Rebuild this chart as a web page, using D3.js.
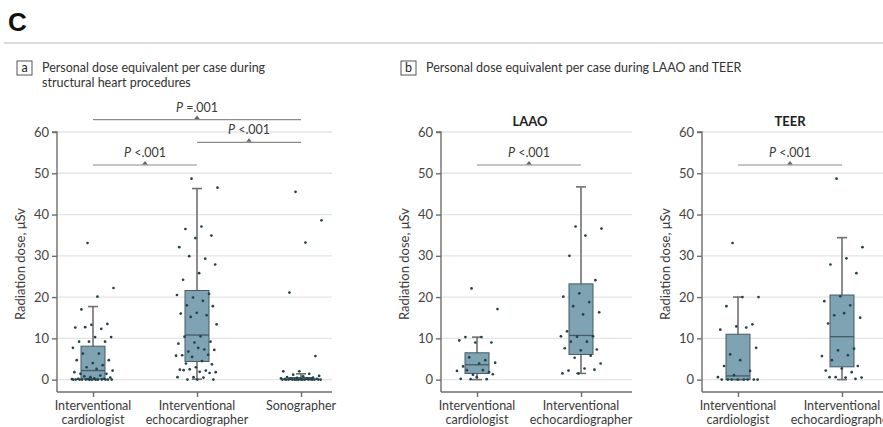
<!DOCTYPE html>
<html>
<head>
<meta charset="utf-8">
<script src="https://cdn.jsdelivr.net/npm/d3@7"></script>
<style>
  html, body { margin: 0; padding: 0; background: #fff; }
  svg { display: block; }
</style>
</head>
<body>
<svg id="chart" width="883" height="427"></svg>
<script>
// ---- Data -------------------------------------------------------------
const yTicks = [0, 10, 20, 30, 40, 50, 60];

// Panel a: structural heart procedures
const categoriesA = ["Interventional cardiologist", "Interventional echocardiographer", "Sonographer"];
const labelLinesA = [["Interventional", "cardiologist"], ["Interventional", "echocardiographer"], ["Sonographer"]];
const q1A = [0.15, 4.4, 0];
const medianA = [2.2, 10.8, 0.1];
const q3A = [8.1, 21.6, 0.5];
const whiskerLowA = [0, 0.1, 0];
const whiskerHighA = [17.7, 46.3, 1.4];
const pointsCardiologistA = [33.1, 22.2, 20.1, 17.0, 13.5, 13.3, 12.6, 12.3, 12.7, 10.3, 10.3, 9.2, 9.2, 9.2, 7.7, 6.3, 6.3, 4.7, 4.0, 4.7, 3.5, 3.0, 2.2, 2.6, 1.4, 1.4, 0.6, 1.8, 1.0, 0.8, 0.5, 0.3, 0.2, 0.2, 0.1, 0.1, 0, 0, 0, 0, 0, 0, 0, 0, 0, 0, 0, 0, 0];
const pointsEchoA = [48.7, 46.5, 37.1, 36.5, 34.9, 34.3, 32.1, 29.3, 29.9, 27.9, 25.8, 24.2, 20.8, 19.9, 20.5, 19.1, 18.0, 17.8, 16.2, 16.0, 15.6, 15.2, 13.4, 10.5, 10.4, 9.2, 9.0, 8.7, 7.3, 6.8, 7.2, 7.7, 5.9, 6.0, 5.5, 5.8, 4.5, 3.9, 3.7, 3.0, 2.4, 2.2, 2.5, 1.8, 1.9, 2.3, 1.6, 0.6, 0.6, 0.5, 0, 0, 0];
const pointsSonographerA = [45.5, 38.6, 33.2, 21.1, 5.7, 2.0, 2.0, 1.4, 1.2, 0.9, 0.8, 0.6, 0.5, 0.4, 0.3, 0.3, 0.2, 0.2, 0.1, 0.1, 0.1, 0, 0, 0, 0, 0, 0, 0, 0, 0, 0, 0, 0, 0, 0];
const comparisonsA = [
  { from: 0, to: 2, op: "=.001", level: 63 },
  { from: 1, to: 2, op: "<.001", level: 57.5 },
  { from: 0, to: 1, op: "<.001", level: 52 }
];

// Panel b: LAAO and TEER
const categoriesB = ["Interventional cardiologist", "Interventional echocardiographer"];
const labelLinesB = [["Interventional", "cardiologist"], ["Interventional", "echocardiographer"]];

const q1LAAO = [1.5, 6.1];
const medianLAAO = [3.6, 10.7];
const q3LAAO = [6.5, 23.2];
const whiskerLowLAAO = [0, 1.5];
const whiskerHighLAAO = [10.3, 46.7];
const pointsCardiologistLAAO = [22.1, 17.1, 10.3, 10.3, 9.0, 9.0, 9.5, 4.7, 5.4, 4.1, 3.9, 3.2, 1.8, 1.2, 2.1, 2.3, 2.3, 1.3, 0.6, 0.2, 0.1, 0.1];
const pointsEchoLAAO = [37.1, 36.6, 34.9, 30.0, 24.1, 20.9, 20.1, 18.8, 17.8, 16.3, 15.8, 11.7, 10.5, 10.4, 10.5, 9.2, 9.2, 7.3, 7.1, 7.6, 5.8, 5.3, 3.9, 2.7, 2.2, 2.4, 1.5, 1.5];

const q1TEER = [0, 3.1];
const medianTEER = [0.9, 10.4];
const q3TEER = [11.0, 20.5];
const whiskerLowTEER = [0, 0];
const whiskerHighTEER = [20.0, 34.4];
const pointsCardiologistTEER = [33.1, 20.0, 20.0, 17.8, 13.4, 12.9, 12.1, 12.6, 6.1, 7.7, 4.7, 3.3, 2.1, 1.1, 0.6, 0, 0, 0, 0, 0, 0, 0, 0];
const pointsEchoTEER = [48.7, 32.1, 29.4, 27.9, 25.8, 20.2, 19.0, 18.0, 15.6, 15.0, 16.1, 13.6, 7.5, 7.1, 5.7, 5.9, 4.7, 3.3, 2.7, 2.2, 1.8, 0.6, 0.5, 0.5, 0.6, 0.2];

const comparisonsB = [{ from: 0, to: 1, op: "<.001", level: 52 }];

// ---- Styles -----------------------------------------------------------
const TEXT = "#3a3a3a";
const AXIS = "#6e6e6e";
const GRID = "#e4e4e4";
const BOX_FILL = "#7ea3b3";
const BOX_STROKE = "#455a63";
const WHISKER = "#707070";
const DOT = "#23404b";

const svg = d3.select("#chart");
const FONT = 'Lato, "Open Sans", sans-serif';
const FS = 12.5;

// ---- Figure header ----------------------------------------------------
svg.append("text")
  .attr("x", 8).attr("y", 31)
  .attr("font-family", "Liberation Sans, Arial, sans-serif")
  .attr("font-weight", "bold").attr("font-size", 26)
  .attr("fill", "#111").text("C");

svg.append("line")
  .attr("x1", 4).attr("x2", 883).attr("y1", 43).attr("y2", 43)
  .attr("stroke", "#cfcfcf").attr("stroke-width", 1.5);

function panelTag(x, y, letter, lines) {
  svg.append("rect").attr("x", x).attr("y", y).attr("width", 15).attr("height", 14)
    .attr("fill", "#fff").attr("stroke", "#555").attr("stroke-width", 1);
  svg.append("text").attr("x", x + 7.5).attr("y", y + 11)
    .attr("text-anchor", "middle").attr("font-family", FONT).attr("font-size", FS)
    .attr("fill", "#222").text(letter);
  const t = svg.append("text").attr("font-family", FONT).attr("font-size", FS).attr("fill", "#333");
  lines.forEach((l, i) => {
    t.append("tspan").attr("x", x + 25).attr("y", y + 11 + i * 15).text(l);
  });
}
panelTag(17, 61, "a", ["Personal dose equivalent per case during", "structural heart procedures"]);
panelTag(401, 61, "b", ["Personal dose equivalent per case during LAAO and TEER"]);

// ---- Box plot panel ---------------------------------------------------
function jitter(i, half) {
  const f = (i * 0.6180339887 + 0.37) % 1;
  return (f - 0.5) * 2 * half;
}

function drawPanel(opt) {
  const { left, right, top, bottom, categories, labelLines, q1, median, q3, wLow, wHigh, points, comparisons, subtitle } = opt;
  const g = svg.append("g");

  const y = d3.scaleLinear().domain([-3, 60]).range([bottom, top]);
  const x = d3.scalePoint().domain(categories)
    .range([left + 36, left + 36 + 104 * (categories.length - 1)]);

  // gridlines
  g.append("g").selectAll("line").data(yTicks).join("line")
    .attr("x1", left).attr("x2", right)
    .attr("y1", d => y(d)).attr("y2", d => y(d))
    .attr("stroke", GRID).attr("stroke-width", 1.3);

  // y axis
  const yAxis = d3.axisLeft(y).tickValues(yTicks).tickSize(5).tickPadding(3);
  const ya = g.append("g").attr("transform", `translate(${left},0)`).call(yAxis);
  ya.select(".domain").attr("d", `M-5,${y(60)}H0V${bottom}`).attr("stroke", AXIS).attr("stroke-width", 1.4);
  ya.selectAll(".tick line").attr("stroke", AXIS).attr("stroke-width", 1.4);
  ya.selectAll(".tick text").attr("font-family", FONT).attr("font-size", 13).attr("fill", "#444");

  // x axis
  const xAxis = d3.axisBottom(x).tickSize(5).tickFormat("");
  const xa = g.append("g").attr("transform", `translate(0,${bottom})`).call(xAxis);
  xa.select(".domain").attr("d", `M${left},0H${right}`).attr("stroke", AXIS).attr("stroke-width", 1.4);
  xa.selectAll(".tick line").attr("stroke", AXIS).attr("stroke-width", 1.4);
  categories.forEach((c, i) => {
    const t = g.append("text").attr("font-family", FONT).attr("font-size", FS)
      .attr("fill", TEXT).attr("text-anchor", "middle");
    labelLines[i].forEach((l, k) => {
      t.append("tspan").attr("x", x(c)).attr("y", bottom + 18 + k * 14).text(l);
    });
  });

  // axis title
  g.append("text")
    .attr("transform", `translate(${left - 32},${(y(60) + bottom) / 2 + 2}) rotate(-90)`)
    .attr("text-anchor", "middle").attr("font-family", FONT).attr("font-size", 13)
    .attr("fill", TEXT).text("Radiation dose, \u03bcSv");

  if (subtitle) {
    g.append("text").attr("x", subtitle.cx).attr("y", 126)
      .attr("text-anchor", "middle").attr("font-family", FONT).attr("font-weight", "bold")
      .attr("font-size", 13).attr("fill", "#222").text(subtitle.text);
  }

  const boxW = 24, capW = 10;
  categories.forEach((c, i) => {
    const cx = x(c);
    // whisker
    g.append("line").attr("x1", cx).attr("x2", cx)
      .attr("y1", y(wLow[i])).attr("y2", y(wHigh[i]))
      .attr("stroke", WHISKER).attr("stroke-width", 1.6);
    [wLow[i], wHigh[i]].forEach(v => {
      g.append("line").attr("x1", cx - capW / 2).attr("x2", cx + capW / 2)
        .attr("y1", y(v)).attr("y2", y(v))
        .attr("stroke", WHISKER).attr("stroke-width", 1.6);
    });
    // box
    g.append("rect").attr("x", cx - boxW / 2).attr("width", boxW)
      .attr("y", y(q3[i])).attr("height", Math.max(0.8, y(q1[i]) - y(q3[i])))
      .attr("fill", BOX_FILL).attr("stroke", BOX_STROKE).attr("stroke-width", 1);
    g.append("line").attr("x1", cx - boxW / 2).attr("x2", cx + boxW / 2)
      .attr("y1", y(median[i])).attr("y2", y(median[i]))
      .attr("stroke", BOX_STROKE).attr("stroke-width", 1.3);
    // observations
    g.append("g").selectAll("circle").data(points[i]).join("circle")
      .attr("cx", (d, k) => cx + jitter(k, 21))
      .attr("cy", d => y(d))
      .attr("r", 1.35)
      .attr("fill", DOT);
  });

  // significance brackets
  comparisons.forEach(cmp => {
    const x1 = x(categories[cmp.from]), x2 = x(categories[cmp.to]);
    const ly = y(cmp.level), mid = (x1 + x2) / 2;
    g.append("line").attr("x1", x1).attr("x2", x2).attr("y1", ly).attr("y2", ly)
      .attr("stroke", "#8a8a8a").attr("stroke-width", 1.2);
    g.append("path").attr("d", `M${mid - 2.8},${ly - 0.5}L${mid + 2.8},${ly - 0.5}L${mid},${ly - 4}Z`)
      .attr("fill", "#666");
    const t = g.append("text").attr("x", mid).attr("y", ly - 8)
      .attr("text-anchor", "middle").attr("font-family", FONT).attr("font-size", FS).attr("fill", TEXT);
    t.append("tspan").attr("font-style", "italic").text("P");
    t.append("tspan").text(" " + cmp.op);
  });
}

drawPanel({
  left: 57, right: 332, top: 132, bottom: 392,
  categories: categoriesA, labelLines: labelLinesA,
  q1: q1A, median: medianA, q3: q3A, wLow: whiskerLowA, wHigh: whiskerHighA,
  points: [pointsCardiologistA, pointsEchoA, pointsSonographerA],
  comparisons: comparisonsA
});

drawPanel({
  left: 441, right: 632, top: 132, bottom: 392,
  categories: categoriesB, labelLines: labelLinesB,
  q1: q1LAAO, median: medianLAAO, q3: q3LAAO, wLow: whiskerLowLAAO, wHigh: whiskerHighLAAO,
  points: [pointsCardiologistLAAO, pointsEchoLAAO],
  comparisons: comparisonsB,
  subtitle: { text: "LAAO", cx: 530 }
});

drawPanel({
  left: 702, right: 893, top: 132, bottom: 392,
  categories: categoriesB, labelLines: labelLinesB,
  q1: q1TEER, median: medianTEER, q3: q3TEER, wLow: whiskerLowTEER, wHigh: whiskerHighTEER,
  points: [pointsCardiologistTEER, pointsEchoTEER],
  comparisons: comparisonsB,
  subtitle: { text: "TEER", cx: 790 }
});
</script>
</body>
</html>
